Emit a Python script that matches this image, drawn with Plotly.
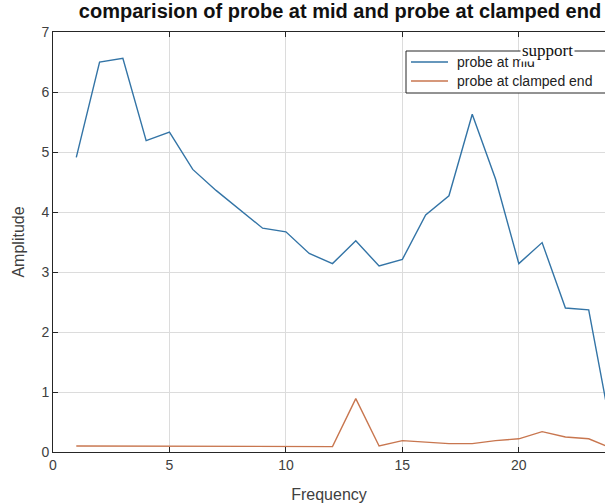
import plotly.graph_objects as go

# Frequency steps and measured amplitudes for the two probe positions
frequency = list(range(1, 25))
probe_mid = [4.91, 6.50, 6.56, 5.19, 5.33, 4.71, 4.36, 4.04, 3.73, 3.67,
             3.31, 3.14, 3.52, 3.10, 3.21, 3.95, 4.27, 5.63, 4.55, 3.14,
             3.49, 2.40, 2.37, 0.30]
probe_clamped = [0.10, 0.10, 0.10, 0.10, 0.10, 0.10, 0.10, 0.10, 0.10, 0.10,
                 0.10, 0.09, 0.89, 0.10, 0.19, 0.16, 0.14, 0.14, 0.19, 0.22,
                 0.34, 0.25, 0.22, 0.06]
series_names = ["probe at mid", "probe at clamped end"]

x_ticks = [0, 5, 10, 15, 20]
y_ticks = [0, 1, 2, 3, 4, 5, 6, 7]

BLUE = "#3374a6"
ORANGE = "#c8764f"
AXIS = "#262626"
SANS = "Liberation Sans, Arial, sans-serif"
TICKFONT = dict(family=SANS, size=14, color="#404040")

W, H = 605, 504
L, T, B = 53, 32, 52
PW, PH = W - L, H - T - B
X_MAX = 23.7


def dx(p):
    """pixel column -> x data value"""
    return (p - L) / PW * X_MAX


def dy(p):
    """pixel row -> y data value"""
    return (H - B - p) / PH * 7


fig = go.Figure()
colors = [BLUE, ORANGE]
for name, vals, col in zip(series_names, [probe_mid, probe_clamped], colors):
    fig.add_trace(go.Scatter(x=frequency, y=vals, mode="lines", name=name,
                             line=dict(color=col, width=1.4), showlegend=False))

fig.update_layout(
    width=W, height=H,
    margin=dict(l=L, r=0, t=T, b=B, autoexpand=False),
    paper_bgcolor="white", plot_bgcolor="white",
    showlegend=False,
    title=dict(text="<b>comparision of probe at mid and probe at clamped end</b>",
               font=dict(family=SANS, size=20, color="#111111"),
               x=(340 - L) / PW, xref="paper", xanchor="center",
               y=1 - 11 / H, yref="container", yanchor="middle"),
    xaxis=dict(range=[0, X_MAX], tickvals=x_ticks, showgrid=True, gridcolor="#dcdcdc",
               gridwidth=1, zeroline=False, showline=True, linecolor=AXIS, linewidth=1,
               mirror="ticks", ticks="inside", ticklen=5, tickcolor=AXIS,
               tickfont=TICKFONT,
               title=dict(text="Frequency", standoff=17,
                          font=dict(family=SANS, size=16, color="#404040"))),
    yaxis=dict(range=[0, 7], tickvals=y_ticks, showgrid=True, gridcolor="#dcdcdc",
               gridwidth=1, zeroline=False, showline=True, linecolor=AXIS, linewidth=1,
               ticks="inside", ticklen=5, tickcolor=AXIS, tickfont=TICKFONT,
               title=dict(text="Amplitude", standoff=12,
                          font=dict(family=SANS, size=16, color="#404040"))),
)

# Legend box running off the right edge of the axes (open on that side)
box_l, box_t, box_b = 406, 51, 93
xl, xr, yt, yb = dx(box_l), X_MAX + 3, dy(box_t), dy(box_b)
fig.add_shape(type="rect", xref="x", yref="y",
              x0=xl, x1=xr, y0=yb, y1=yt,
              line=dict(width=0), fillcolor="white", layer="between")
fig.add_shape(type="path", xref="x", yref="y",
              path=f"M {xr},{yt} L {xl},{yt} L {xl},{yb} L {xr},{yb}",
              line=dict(color=AXIS, width=1), layer="above")
for i, (name, col) in enumerate(zip(series_names, colors)):
    yy = dy(62 + 19 * i)
    fig.add_shape(type="line", xref="x", yref="y",
                  x0=dx(411), x1=dx(448), y0=yy, y1=yy,
                  line=dict(color=col, width=1.6), layer="above")
    fig.add_annotation(text=name, xref="x", yref="y",
                       x=dx(455), y=yy, xanchor="left", yanchor="middle",
                       showarrow=False,
                       font=dict(family=SANS, size=14, color="#222222"))

# Title text sitting on the legend's top border
fig.add_annotation(text="support", xref="x", yref="y",
                   x=dx(547), y=dy(box_t - 1),
                   xanchor="center", yanchor="middle", showarrow=False,
                   bgcolor="white", borderpad=1,
                   font=dict(family="Liberation Serif, Times New Roman, serif", size=17, color="#111111"))

fig.write_html("out.html")
